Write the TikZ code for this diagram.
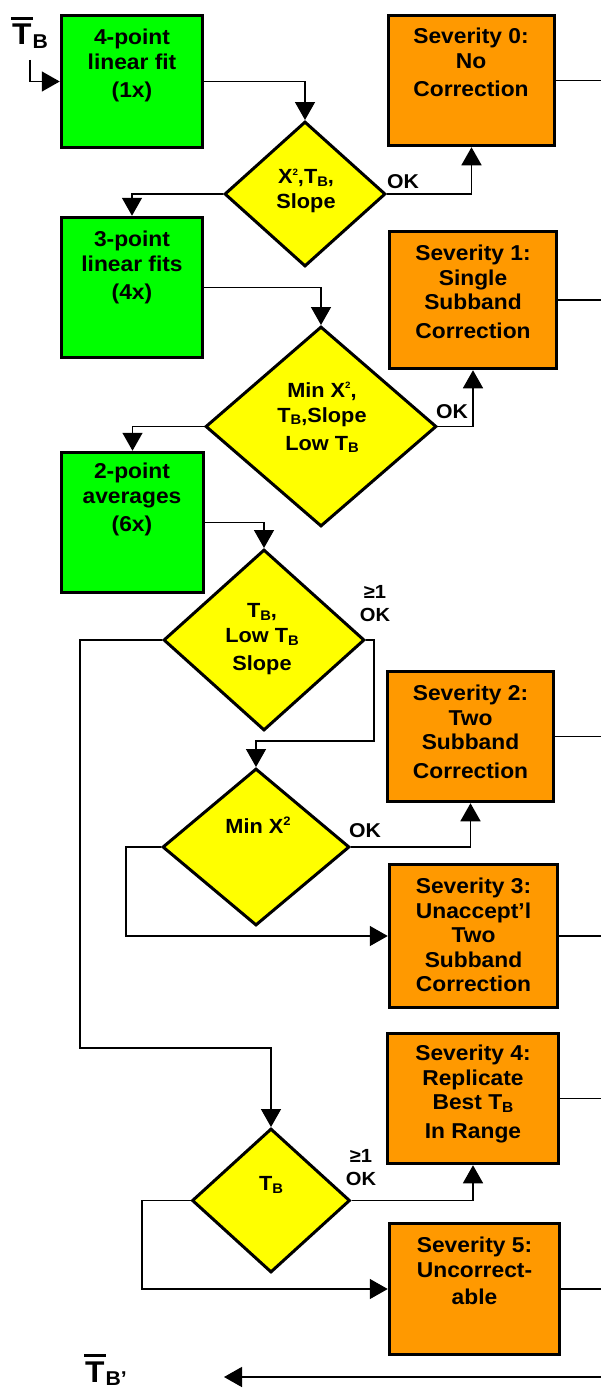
\documentclass[tikz,border=0pt]{standalone}
\usepackage{fontspec}
\setmainfont{Liberation Sans}[FakeStretch=1.06]
\usetikzlibrary{shapes.geometric,arrows.meta,calc}
\definecolor{bgreen}{RGB}{0,255,0}
\definecolor{borange}{RGB}{255,153,0}
\definecolor{byellow}{RGB}{255,255,0}
\newcommand\sbB[1]{\raisebox{-0.14em}{\scalebox{0.68}{#1}}}
\newcommand\supT[1]{\raisebox{0.40em}{\scalebox{0.45}{#1}}}
\newcommand\supM[1]{\raisebox{0.36em}{\scalebox{0.6}{#1}}}
\newcommand\obar[1]{\vbox{\hrule height 2.5pt\kern 4.5pt\hbox{#1}}}
\begin{document}
\begin{tikzpicture}[x=1pt,y=-1pt,
  rbox/.style={rectangle, draw, line width=3.5pt, inner sep=0pt},
  gbox/.style={rbox, fill=bgreen},
  obox/.style={rbox, fill=borange},
  dia/.style={diamond, draw, line width=3pt, fill=byellow, inner sep=0pt},
  btxt/.style={anchor=north, align=center, inner sep=0pt, font=\bfseries\fontsize{21.5}{24.5}\selectfont},
  dtxt/.style={anchor=north, align=center, inner sep=0pt, font=\bfseries\fontsize{20.5}{25}\selectfont},
  oklab/.style={anchor=base west, inner sep=0pt, font=\bfseries\fontsize{20}{23}\selectfont},
  gelab/.style={anchor=north, align=center, inner sep=0pt, font=\bfseries\fontsize{19}{23}\selectfont},
  ttl/.style={anchor=base west, inner sep=0pt, font=\bfseries\fontsize{30}{30}\selectfont},
  ln/.style={line width=1.5pt},
  arr/.style={line width=1.5pt, -{Triangle[length=18pt,width=20pt]}}]
\useasboundingbox (0,0) rectangle (600,1389);

% boxes
\node[gbox, minimum width=141pt, minimum height=132pt] (g1) at (132,81.5) {};
\node[gbox, minimum width=141pt, minimum height=140pt] (g2) at (132,287.5) {};
\node[gbox, minimum width=142pt, minimum height=140pt] (g3) at (132.5,522.5) {};
\node[obox, minimum width=166pt, minimum height=130pt] (o0) at (471.5,80.5) {};
\node[obox, minimum width=167pt, minimum height=137pt] (o1) at (473,300) {};
\node[obox, minimum width=166pt, minimum height=130pt] (o2) at (470.5,736.5) {};
\node[obox, minimum width=168pt, minimum height=143pt] (o3) at (473.5,936) {};
\node[obox, minimum width=171pt, minimum height=130pt] (o4) at (473,1098.5) {};
\node[obox, minimum width=170pt, minimum height=131pt] (o5) at (474.5,1289) {};

% diamonds
\node[dia, minimum width=161pt, minimum height=145pt] (d1) at (305,194) {};
\node[dia, minimum width=231pt, minimum height=200pt] (d2) at (321,426.5) {};
\node[dia, minimum width=201pt, minimum height=181pt] (d3) at (264,640) {};
\node[dia, minimum width=187pt, minimum height=157pt] (d4) at (256,847) {};
\node[dia, minimum width=158pt, minimum height=144pt] (d5) at (271,1200.5) {};

% box texts
\node[btxt] (tg1) at (132,29) {4-point\\linear fit\\[4pt](1x)};
\node[btxt] (tg2) at (132,231) {3-point\\linear fits\\[4pt](4x)};
\node[btxt] (tg3) at (132,463) {2-point\\averages\\[4pt](6x)};
\node[btxt] (to0) at (471,28) {Severity 0:\\No\\[4pt]Correction};
\node[btxt] (to1) at (473,245) {Severity 1:\\Single\\Subband\\[4pt]Correction};
\node[btxt] (to2) at (470.5,685) {Severity 2:\\Two\\Subband\\[4pt]Correction};
\node[btxt] (to3) at (473.5,878) {Severity 3:\\Unaccept’l\\Two\\Subband\\Correction};
\node[btxt] (to4) at (473,1045) {Severity 4:\\Replicate\\Best T\sbB{B}\\[4pt]In Range};
\node[btxt] (to5) at (474.5,1237) {Severity 5:\\Uncorrect-\\[3pt]able};

% diamond texts
\node[dtxt] (td1) at (306,169) {X\supT{2},T\sbB{B},\\Slope};
\node[dtxt] (td2) at (322,382) {Min X\supT{2},\\T\sbB{B},Slope\\[3pt]Low T\sbB{B}};
\node[dtxt] (td3) at (262,603) {T\sbB{B},\\Low T\sbB{B}\\[3pt]Slope};
\node[dtxt] (td4) at (258,817) {Min X\supM{2}};
\node[dtxt] (td5) at (271,1176) {T\sbB{B}};

% branch labels
\node[oklab] (ok1) at (387,188) {OK};
\node[oklab] (ok2) at (436,418) {OK};
\node[oklab] (ok4) at (349,837) {OK};
\node[gelab] (ge3) at (375,585) {≥1\\OK};
\node[gelab] (ge5) at (361,1149) {≥1\\OK};

% input / output labels
\node[ttl] (tin) at (11,45) {\obar{\kern1pt T\kern1pt}\raisebox{-4pt}{\fontsize{20}{20}\selectfont B}};
\node[ttl] (tout) at (84,1382) {\obar{\kern1pt T\kern1pt}\raisebox{-3pt}{\fontsize{20}{20}\selectfont B’}};

% helper coordinates
\coordinate (c0) at (30,60);
\coordinate (w1) at (80,1048);
\coordinate (w2) at (374,741);
\coordinate (w3) at (126,936);
\coordinate (w4) at (142,1289);
\coordinate (rr) at (602,0);
\coordinate (bs) at (602,1377);
\coordinate (be) at (224,1377);

% connectors
\draw[arr] (c0) |- (g1.west);
\draw[arr] (g1.east) -| (d1.north);
\draw[arr] (d1.west) -| (g2.north);
\draw[arr] (d1.east) -| (o0.south);
\draw[arr] (g2.east) -| (d2.north);
\draw[arr] (d2.west) -| (g3.north);
\draw[arr] (d2.east) -| (o1.south);
\draw[arr] (g3.east) -| (d3.north);
\draw[arr] (d3.east) -| (w2) -| (d4.north);
\draw[arr] (d3.west) -| (w1) -| (d5.north);
\draw[arr] (d4.east) -| (o2.south);
\draw[arr] (d4.west) -| (w3) -- (o3.west);
\draw[arr] (d5.east) -| (o4.south);
\draw[arr] (d5.west) -| (w4) -- (o5.west);
\draw[ln] (o0.east) -- (o0.east -| rr);
\draw[ln] (o1.east) -- (o1.east -| rr);
\draw[ln] (o2.east) -- (o2.east -| rr);
\draw[ln] (o3.east) -- (o3.east -| rr);
\draw[ln] (o4.east) -- (o4.east -| rr);
\draw[ln] (o5.east) -- (o5.east -| rr);
\draw[arr] (bs) -- (be);
\end{tikzpicture}
\end{document}
